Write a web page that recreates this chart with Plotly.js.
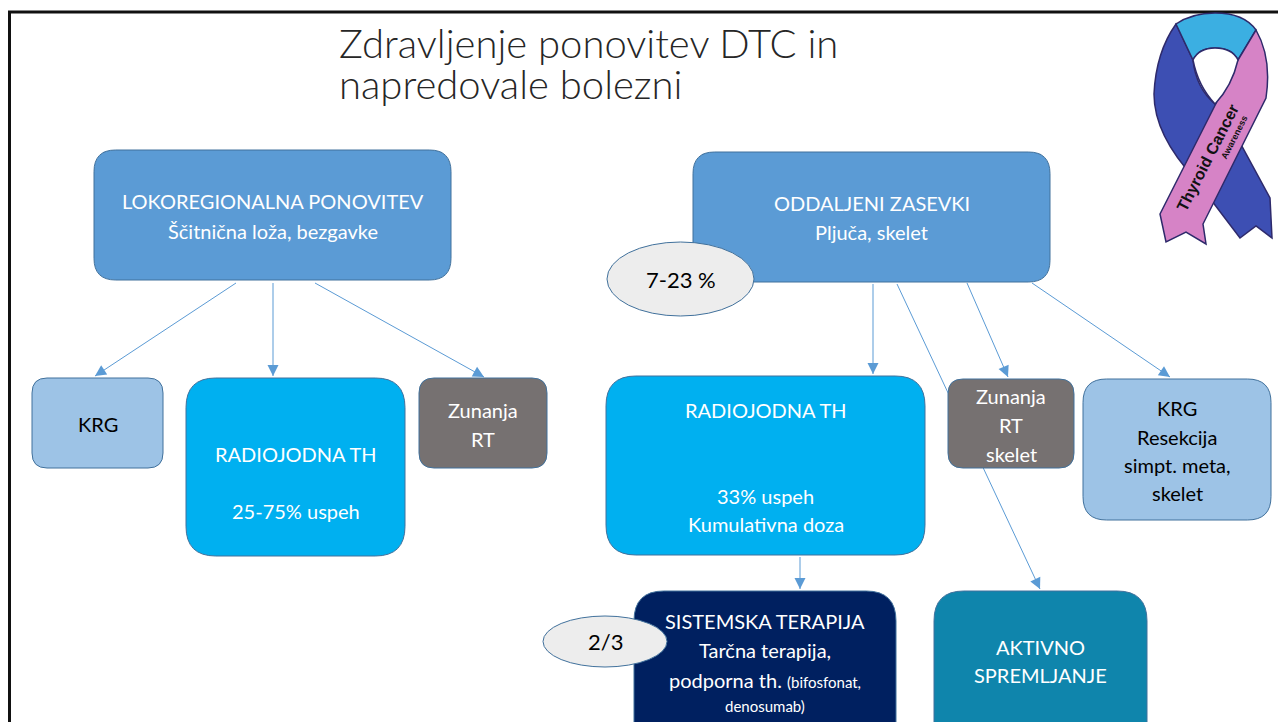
<!DOCTYPE html>
<html>
<head>
<meta charset="utf-8">
<script src="https://cdn.plot.ly/plotly-3.0.1.min.js"></script>
<style>html,body{margin:0;padding:0;background:#fff;}#chart{width:1278px;height:722px;}</style>
</head>
<body>
<div id="chart"></div>
<script>
// ---------------- DATA ----------------
const titleLines = ["Zdravljenje ponovitev DTC in", "napredovale bolezni"];
const nodeNames = ["LOKOREGIONALNA", "ODDALJENI", "KRG_L", "RADIO_L", "RT_L", "RADIO_R", "RT_R", "KRG_R", "SISTEMSKA", "AKTIVNO"];
const nodeLines = [
  ["LOKOREGIONALNA PONOVITEV", "Ščitnična loža, bezgavke"],
  ["ODDALJENI ZASEVKI", "Pljuča, skelet"],
  ["KRG"],
  ["RADIOJODNA TH", "25-75% uspeh"],
  ["Zunanja", "RT"],
  ["RADIOJODNA TH", "33% uspeh", "Kumulativna doza"],
  ["Zunanja", "RT", "skelet"],
  ["KRG", "Resekcija", "simpt. meta,", "skelet"],
  ["SISTEMSKA TERAPIJA", "Tarčna terapija,", "podporna th. <span style='font-size:15px'>(bifosfonat,</span>", "<span style='font-size:15px'>denosumab)</span>"],
  ["AKTIVNO", "SPREMLJANJE"]
];
const badgeLabels = ["7-23 %", "2/3"];
const edges = [[0,2],[0,3],[0,4],[1,5],[1,9],[1,6],[1,7],[5,8]];
const logoTexts = ["Thyroid Cancer", "Awareness"];

// ---------------- LAYOUT (positions / styles) ----------------
const W = 1278, H = 722;
const boxGeom = [
  [94,150,451,280],[693,152,1050,282],[32,378,163,468],[186,378,405,556],[419,378,547,468],
  [606,376,925,555],[948,379,1074,468],[1083,379,1271,520],[634,591,896,770],[934,591,1147,770]
];
const boxFill = ["#5B9BD5","#5B9BD5","#9DC3E6","#00B0F0","#767171","#00B0F0","#767171","#9DC3E6","#002060","#0F85AC"];
const boxTextColor = ["#fff","#fff","#000","#fff","#fff","#fff","#fff","#000","#fff","#fff"];
const lineY = [
  [201,231],[203,232],[424],[454,511],[410,439],[410,496,524],[396,425,454],[408,437,465,493],[621,650,680,706],[647,675]
];
const edgePts = [
  [[236,283],[95,376]],[[273,283],[273,376]],[[315,283],[484,377]],
  [[873,284],[873,374]],[[897,284],[1040,589]],[[967,283],[1008,377]],[[1032,283],[1170,377]],
  [[800,557],[800,589]]
];
const badgeGeom = [[607,242,754,316],[543,616,667,667]];
const font = "Lato, 'Open Sans', sans-serif";

function rr(g){
  const [x0,y0,x1,y1] = g; const r = 0.1667*Math.min(x1-x0, y1-y0);
  return `M${x0+r},${y0} L${x1-r},${y0} Q${x1},${y0} ${x1},${y0+r} L${x1},${y1-r} Q${x1},${y1} ${x1-r},${y1} L${x0+r},${y1} Q${x0},${y1} ${x0},${y1-r} L${x0},${y0+r} Q${x0},${y0} ${x0+r},${y0} Z`;
}

const shapes = [];
const annotations = [];

// connectors (drawn first so boxes cover them)
edges.forEach((e,i)=>{
  const [a,b] = edgePts[i];
  shapes.push({type:'line', xref:'x', yref:'y', x0:a[0], y0:a[1], x1:b[0], y1:b[1], line:{color:'#5B9BD5', width:1}});
  const dx=b[0]-a[0], dy=b[1]-a[1], L=Math.hypot(dx,dy);
  annotations.push({x:b[0], y:b[1], ax:b[0]-dx/L*10, ay:b[1]-dy/L*10, xref:'x', yref:'y', axref:'x', ayref:'y',
    text:'', showarrow:true, arrowhead:2, arrowsize:2.2, arrowwidth:1, arrowcolor:'#5B9BD5'});
});

// boxes
nodeNames.forEach((n,i)=>{
  shapes.push({type:'path', xref:'x', yref:'y', path: rr(boxGeom[i]), fillcolor: boxFill[i], line:{color:'#41719C', width:1}});
  const cx = (boxGeom[i][0]+boxGeom[i][2])/2;
  nodeLines[i].forEach((t,j)=>{
    annotations.push({x:cx, y:lineY[i][j], xref:'x', yref:'y', text:t, showarrow:false,
      xanchor:'center', yanchor:'middle', font:{family:font, size:20, color:boxTextColor[i]}});
  });
});

// badges
badgeLabels.forEach((t,i)=>{
  const g = badgeGeom[i];
  shapes.push({type:'circle', xref:'x', yref:'y', x0:g[0], y0:g[1], x1:g[2], y1:g[3], fillcolor:'#EDEDED', line:{color:'#41719C', width:1}});
  annotations.push({x:(g[0]+g[2])/2, y:(g[1]+g[3])/2, xref:'x', yref:'y', text:t, showarrow:false,
    font:{family:font, size:22, color:'#000'}});
});

// frame
shapes.push({type:'line', xref:'x', yref:'y', x0:8, y0:12, x1:W, y1:12, line:{color:'#111', width:3}});
shapes.push({type:'line', xref:'x', yref:'y', x0:9.5, y0:11, x1:9.5, y1:H, line:{color:'#111', width:3}});

// logo ribbon
const navy = '#2E2A6B';
shapes.push({type:'path', xref:'x', yref:'y', fillcolor:'#3D4FB3', line:{color:navy, width:1.5},
  path:'M1176,24 L1193,60 Q1196,88 1215,104 L1232,128 L1270,198 L1272,238 L1256,226 L1240,238 L1196,180 Q1154,135 1154,94 Q1156,52 1176,24 Z'});
shapes.push({type:'path', xref:'x', yref:'y', fillcolor:'#3BAFE2', line:{color:navy, width:1.5},
  path:'M1176,24 Q1192,13 1215,13 Q1244,13 1256,30 L1238,60 Q1232,48 1215,48 Q1199,48 1193,60 Z'});
shapes.push({type:'path', xref:'x', yref:'y', fillcolor:'#D683C6', line:{color:navy, width:1.5},
  path:'M1238,60 L1256,30 Q1272,58 1266,98 L1203,224 L1206,244 L1186,232 L1166,242 L1160,214 Z'});
shapes.push({type:'path', xref:'x', yref:'y', fillcolor:'#FFFFFF', line:{color:navy, width:1.5},
  path:'M1193,60 Q1199,48 1215,48 Q1232,48 1238,60 Q1232,86 1215,104 Q1198,86 1193,60 Z'});
annotations.push({x:1207, y:158, xref:'x', yref:'y', text:'<b>'+logoTexts[0]+'</b>', showarrow:false, textangle:-63,
  font:{family:'Liberation Sans, Arial, sans-serif', size:16, color:'#111'}});
annotations.push({x:1234, y:138, xref:'x', yref:'y', text:'<b>'+logoTexts[1]+'</b>', showarrow:false, textangle:-63,
  font:{family:'Liberation Sans, Arial, sans-serif', size:9, color:'#111'}});

// title
titleLines.forEach((t,i)=>{
  annotations.push({x:337, y:[43,84][i], xref:'x', yref:'y', text:t, showarrow:false, xanchor:'left', yanchor:'middle',
    font:{family:font, size:40, color:'#262626', weight:300}});
});

const layout = {
  width:W, height:H, margin:{l:0,r:0,t:0,b:0}, paper_bgcolor:'#fff', plot_bgcolor:'#fff',
  xaxis:{range:[0,W], visible:false, fixedrange:true},
  yaxis:{range:[H,0], visible:false, fixedrange:true},
  shapes, annotations, showlegend:false
};
Plotly.newPlot('chart', [{x:[0],y:[0],mode:'markers',marker:{opacity:0},hoverinfo:'skip'}], layout, {displayModeBar:false, staticPlot:true});
</script>
</body>
</html>
